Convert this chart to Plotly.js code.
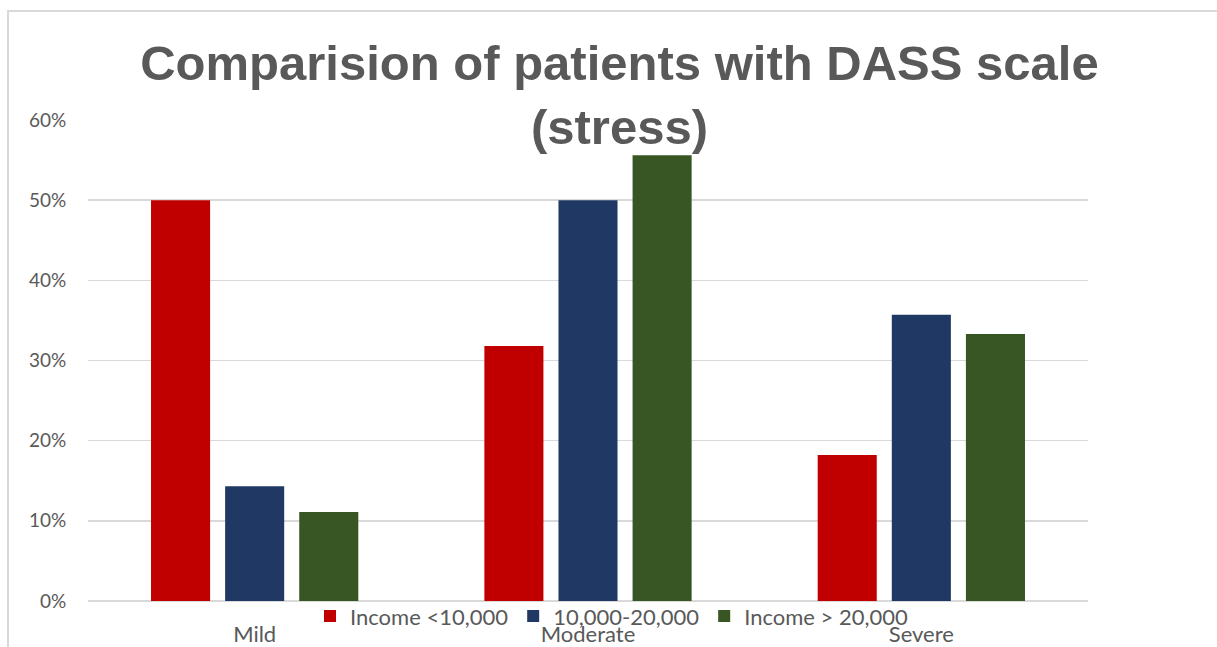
<!DOCTYPE html>
<html>
<head>
<meta charset="utf-8">
<script src="https://cdn.plot.ly/plotly-3.0.1.min.js"></script>
<style>
  html, body { margin: 0; padding: 0; background: #fff; }
  #wrap { position: relative; width: 1217px; height: 647px; overflow: hidden; }
  #chart { position: absolute; left: 0; top: 0; width: 1217px; height: 647px; }
  #frame { position: absolute; left: 7px; top: 10px; width: 1300px; height: 700px;
           border: 2px solid #d9d9d9; pointer-events: none; }
</style>
</head>
<body>
<div id="wrap">
  <div id="chart"></div>
  <div id="frame"></div>
</div>
<script>
const categories = ["Mild", "Moderate", "Severe"];
const seriesNames = ["Income <10,000", "10,000-20,000", "Income > 20,000"];
const incomeLow = [0.50, 0.318, 0.182];
const incomeMid = [0.143, 0.50, 0.357];
const incomeHigh = [0.111, 0.556, 0.333];
const tickValues = [0, 0.1, 0.2, 0.3, 0.4, 0.5, 0.6];
const tickLabels = ["0%", "10%", "20%", "30%", "40%", "50%", "60%"];
const colors = ["#C00000", "#203864", "#375623"];

const seriesValues = [incomeLow, incomeMid, incomeHigh];
const traces = seriesValues.map((vals, i) => ({
  type: "bar",
  name: seriesNames[i],
  x: categories,
  y: vals,
  marker: { color: colors[i] },
  hoverinfo: "skip"
}));

const font = "Lato, 'Open Sans', sans-serif";
const layout = {
  width: 1217,
  height: 647,
  paper_bgcolor: "#ffffff",
  plot_bgcolor: "#ffffff",
  margin: { l: 88, r: 129, t: 120, b: 46, autoexpand: false },
  barmode: "group",
  bargap: 0.333,
  bargroupgap: 0.203,
  title: {
    text: "Comparision of patients with DASS scale<br>(stress)",
    font: { family: "'Liberation Sans', Arial, sans-serif", size: 49, color: "#595959", weight: "bold" },
    x: 0.509,
    xref: "container",
    xanchor: "center",
    y: 1 - 80 / 647,
    yref: "container",
    yanchor: "top"
  },
  xaxis: {
    type: "category",
    showgrid: false,
    showline: false,
    zeroline: false,
    ticks: "outside",
    ticklen: 14,
    tickcolor: "rgba(0,0,0,0)",
    tickfont: { family: font, size: 22, color: "#595959" },
    fixedrange: true
  },
  yaxis: {
    range: [0, 0.6],
    tickvals: tickValues,
    ticktext: tickLabels,
    showgrid: true,
    gridcolor: "#d9d9d9",
    gridwidth: 1.5,
    zeroline: true,
    zerolinecolor: "#d9d9d9",
    zerolinewidth: 1.5,
    showline: false,
    ticks: "outside",
    ticklen: 17,
    tickcolor: "rgba(0,0,0,0)",
    tickfont: { family: font, size: 19, color: "#595959" },
    fixedrange: true
  },
  showlegend: true,
  legend: {
    orientation: "h",
    x: 0.222,
    xanchor: "left",
    y: 0.012,
    yanchor: "top",
    font: { family: font, size: 22, color: "#595959" },
    bgcolor: "rgba(0,0,0,0)",
    itemclick: false,
    itemdoubleclick: false
  }
};

Plotly.newPlot("chart", traces, layout, { displayModeBar: false, staticPlot: true });
</script>
</body>
</html>
